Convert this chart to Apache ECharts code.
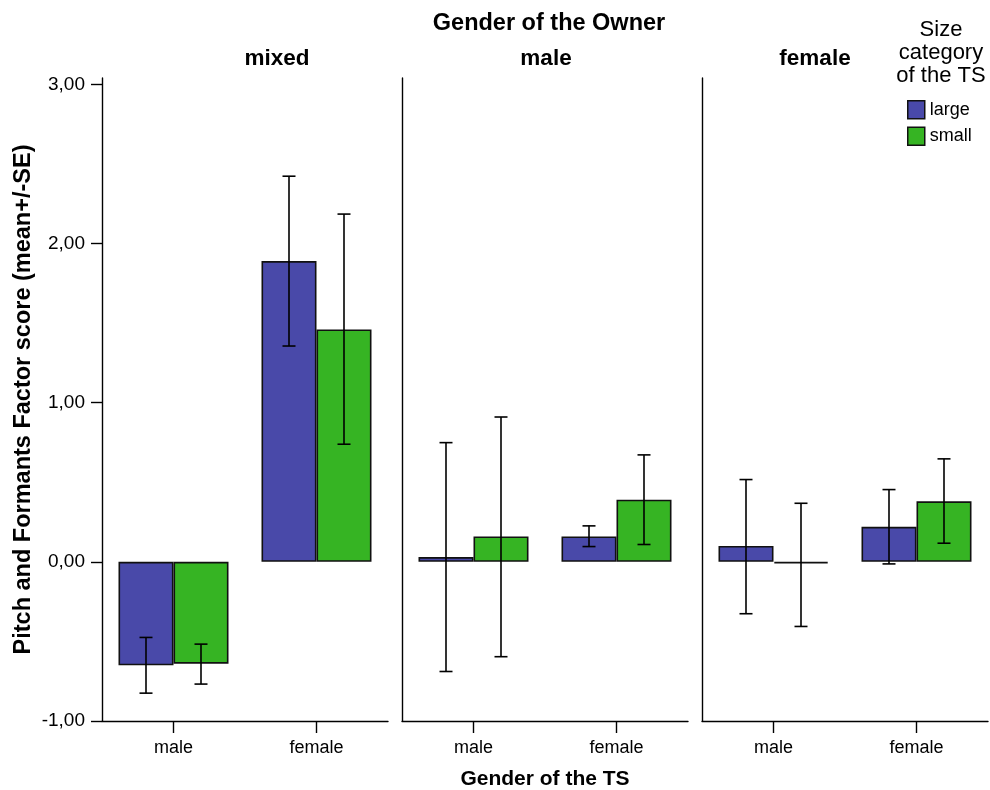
<!DOCTYPE html>
<html>
<head>
<meta charset="utf-8">
<script src="https://cdn.jsdelivr.net/npm/echarts@6/dist/echarts.min.js"></script>
<style>html,body{margin:0;padding:0;background:#fff}#c{width:990px;height:790px}</style>
</head>
<body>
<div id="c"></div>
<script>
// ---- data ----
const panelNames = ['mixed', 'male', 'female'];          // Gender of the Owner
const categories = ['male', 'female'];                   // Gender of the TS
const seriesNames = ['large', 'small'];                  // Size category of the TS
// means per panel: [male, female]
const largeMean = [[-0.65, 1.89], [0.03, 0.16], [0.10, 0.22]];
const smallMean = [[-0.64, 1.46], [0.16, 0.39], [-0.01, 0.38]];
// mean - SE
const largeLow  = [[-0.825, 1.356], [-0.689, 0.096], [-0.326, -0.013]];
const smallLow  = [[-0.768, 0.739], [-0.596, 0.109], [-0.406, 0.117]];
// mean + SE
const largeHigh = [[-0.475, 2.423], [0.749, 0.226], [0.517, 0.454]];
const smallHigh = [[-0.517, 2.185], [0.910, 0.672], [0.368, 0.647]];
const yTicks = [-1, 0, 1, 2, 3];

// ---- styling ----
const FONT = "'Liberation Sans', Arial, sans-serif";
const colors = ['#4949a9', '#36b423'];
const BAR_W = 55;
const gridLefts = [102, 402, 702];
const GRID_W = 286;
const panelTitleX = [277, 546, 815];

const chart = echarts.init(document.getElementById('c'), null, {renderer: 'canvas'});

const grids = [], xAxes = [], yAxes = [], series = [];
const axisLine = {show: true, onZero: false, lineStyle: {color: '#000', width: 1.4}};

panelNames.forEach((p, i) => {
  grids.push({left: gridLefts[i], top: 78, width: GRID_W, height: 643, containLabel: false, outerBoundsMode: 'none'});
  xAxes.push({
    type: 'category', gridIndex: i, data: categories,
    axisLine: axisLine,
    axisTick: {show: true, alignWithLabel: true, length: 12, lineStyle: {color: '#000', width: 1.4}},
    axisLabel: {color: '#000', fontFamily: FONT, fontSize: 18, margin: 18},
    splitLine: {show: false},
    name: i === 1 ? 'Gender of the TS' : '',
    nameLocation: 'middle', nameGap: 48,
    nameTextStyle: {color: '#000', fontFamily: FONT, fontSize: 21, fontWeight: 'bold'}
  });
  yAxes.push({
    type: 'value', gridIndex: i, min: -1, max: 3.04, interval: 1,
    axisLine: axisLine,
    axisTick: {show: i === 0, length: 11, customValues: yTicks, lineStyle: {color: '#000', width: 1.4}},
    axisLabel: {show: i === 0, customValues: yTicks, color: '#000', fontFamily: FONT, fontSize: 19, margin: 17,
      formatter: v => v.toFixed(2).replace('.', ',')},
    splitLine: {show: false},
    name: i === 0 ? 'Pitch and Formants Factor score (mean+/-SE)' : '',
    nameLocation: 'middle', nameGap: 66,
    nameTextStyle: {color: '#000', fontFamily: FONT, fontSize: 23.5, fontWeight: 'bold'}
  });

  const means = [largeMean[i], smallMean[i]];
  const lows = [largeLow[i], smallLow[i]];
  const highs = [largeHigh[i], smallHigh[i]];
  seriesNames.forEach((s, k) => {
    series.push({
      name: s, type: 'bar', xAxisIndex: i, yAxisIndex: i,
      data: means[k], barWidth: BAR_W, barGap: '0%',
      itemStyle: {color: colors[k], borderColor: '#111', borderWidth: 1.6},
      emphasis: {disabled: true}, z: 2
    });
  });
  seriesNames.forEach((s, k) => {
    const off = (k === 0 ? -1 : 1) * BAR_W / 2;
    series.push({
      name: 'err-' + s, type: 'custom', xAxisIndex: i, yAxisIndex: i, z: 5,
      data: categories.map((c, j) => [j, lows[k][j], highs[k][j]]),
      renderItem: (params, api) => {
        const lo = api.coord([api.value(0), api.value(1)]);
        const hi = api.coord([api.value(0), api.value(2)]);
        const x = lo[0] + off, cap = 6.5;
        const st = {stroke: '#000', lineWidth: 1.6};
        return {type: 'group', children: [
          {type: 'line', shape: {x1: x, y1: lo[1], x2: x, y2: hi[1]}, style: st},
          {type: 'line', shape: {x1: x - cap, y1: lo[1], x2: x + cap, y2: lo[1]}, style: st},
          {type: 'line', shape: {x1: x - cap, y1: hi[1], x2: x + cap, y2: hi[1]}, style: st}
        ]};
      }
    });
  });
});

const titles = [
  {text: 'Gender of the Owner', left: 549, top: 12, textAlign: 'center', padding: 0,
   textStyle: {color: '#000', fontFamily: FONT, fontSize: 23.5, fontWeight: 'bold'}},
  {text: 'Size\ncategory\nof the TS', left: 941, top: 18, textAlign: 'center', padding: 0,
   textStyle: {color: '#000', fontFamily: FONT, fontSize: 22, fontWeight: 'normal', lineHeight: 23}}
];
panelNames.forEach((p, i) => {
  titles.push({text: p, left: panelTitleX[i], top: 47, textAlign: 'center', padding: 0,
    textStyle: {color: '#000', fontFamily: FONT, fontSize: 22.5, fontWeight: 'bold'}});
});

chart.setOption({
  animation: false,
  backgroundColor: '#fff',
  title: titles,
  legend: {
    data: seriesNames, orient: 'vertical', left: 907, top: 100, padding: 0,
    itemWidth: 17, itemHeight: 18, itemGap: 7, icon: 'rect',
    itemStyle: {borderColor: '#111', borderWidth: 1.5},
    textStyle: {color: '#000', fontFamily: FONT, fontSize: 18}
  },
  grid: grids, xAxis: xAxes, yAxis: yAxes, series: series
});
</script>
</body>
</html>
